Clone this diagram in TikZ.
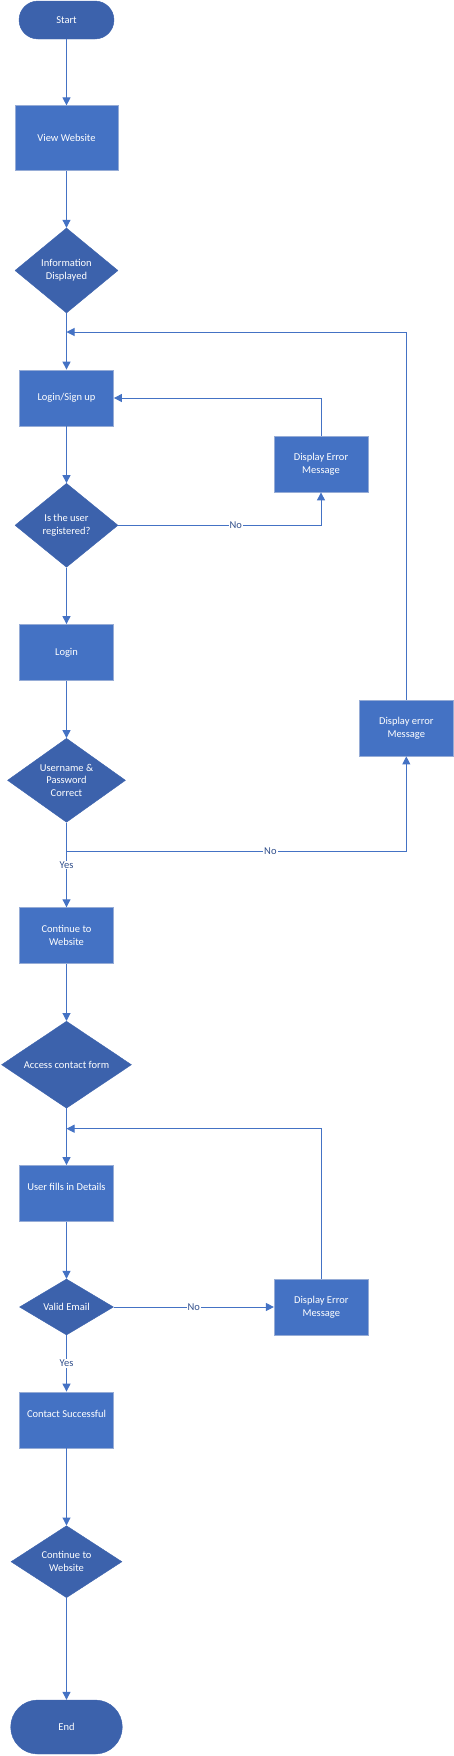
\documentclass[tikz,border=0pt]{standalone}
\usepackage{fontspec}
\setmainfont{Carlito}
\usepackage{xcolor}
\definecolor{Col1}{RGB}{68,114,196}
\definecolor{Col2}{RGB}{60,98,172}
\definecolor{Col3}{RGB}{150,172,214}
\definecolor{Col4}{RGB}{50,80,140}
\usepackage{tikz}
\usetikzlibrary{shapes.geometric}
\usetikzlibrary{arrows.meta}
\tikzstyle{Box}=[rectangle,draw=Col3,fill=Col1,line width=.8pt,
minimum width=94pt,minimum height=56pt,inner sep=0pt,text=white,
align=center,font=\fontsize{10.5}{12.7}\selectfont]
\tikzstyle{Dec}=[diamond,draw=Col2,fill=Col2,shape aspect=1.4,
inner sep=0pt,text=white,align=center,font=\fontsize{10.5}{12.7}\selectfont]
\tikzstyle{Term}=[rectangle,draw=Col2,fill=Col2,text=white,
font=\fontsize{10.5}{12.7}\selectfont]
\tikzstyle{Edge}=[draw=Col1,line width=1pt,-{Triangle[length=8pt,width=8pt]}]
\tikzstyle{Lab}=[fill=white,inner sep=1pt,text=Col4,
font=\fontsize{10.5}{12.7}\selectfont]

\begin{document}
\begin{tikzpicture}[x=1pt,y=-1pt]
        \useasboundingbox (0,0) rectangle (454,1756);
        \node[Term,rounded corners=19pt,minimum width=95pt,minimum height=38pt](st)at(66.5,20){Start};
        \node[Box,minimum width=103pt,minimum height=65pt](vw)at(66.5,138.3){View Website};
        \node[Dec,minimum width=103pt,minimum height=85pt](inf)at(66.5,270.5){Information\\Displayed};
        \coordinate(j1)at(66.5,332);
        \node[Box](ls)at(66.5,398){Login/Sign up};
        \node[Box](e1)at(321,464){Display Error\\Message};
        \node[Dec,minimum width=103pt,minimum height=84pt](reg)at(66.5,525.3){Is the user\\registered?};
        \node[Box](lg)at(66.5,652.5){Login};
        \node[Box](e2)at(406.3,728){Display error\\Message};
        \node[Dec,minimum width=118pt,minimum height=84pt](pw)at(66.5,780.3){Username \&\\Password\\Correct};
        \coordinate(j2)at(66.5,851);
        \node[Box](cw)at(66.5,935.7){Continue to\\Website};
        \node[Dec,minimum width=130pt,minimum height=87pt](acf)at(66.5,1064.7){Access contact form};
        \coordinate(j3)at(66.5,1128.7);
        \node[Box](ufd)at(66.5,1193.5){User fills in Details\\\mbox{}};
        \node[Dec,minimum width=94pt,minimum height=56pt](ve)at(66.5,1307){Valid Email};
        \node[Box](e3)at(321.3,1307){Display Error\\Message};
        \node[Box](cs)at(66.5,1420){Contact Successful\\\mbox{}};
        \node[Dec,minimum width=111pt,minimum height=72pt](cw2)at(66.5,1561.7){Continue to\\Website};
        \node[Term,rounded corners=27pt,minimum width=111.6pt,minimum height=54pt](en)at(66.5,1727){End};
        \draw[Edge](st)--(vw);
        \draw[Edge](vw)--(inf);
        \draw[Edge](inf)--(ls);
        \draw[Edge](ls)--(reg);
        \draw[Edge](reg.east)-|node[Lab,pos=.29]{No}(e1.south);
        \draw[Edge](e1.north)|-(ls.east);
        \draw[Edge](reg)--(lg);
        \draw[Edge](lg)--(pw);
        \draw[Edge](pw.south)--node[Lab]{Yes}(cw.north);
        \draw[Edge](j2)-|node[Lab,pos=.3]{No}(e2.south);
        \draw[Edge](e2.north)|-(j1);
        \draw[Edge](cw)--(acf);
        \draw[Edge](acf)--(ufd);
        \draw[Edge](ufd)--(ve);
        \draw[Edge](ve)--node[Lab]{No}(e3);
        \draw[Edge](e3.north)|-(j3);
        \draw[Edge](ve)--node[Lab]{Yes}(cs);
        \draw[Edge](cs)--(cw2);
        \draw[Edge](cw2)--(en);
    \end{tikzpicture}
\end{document}
